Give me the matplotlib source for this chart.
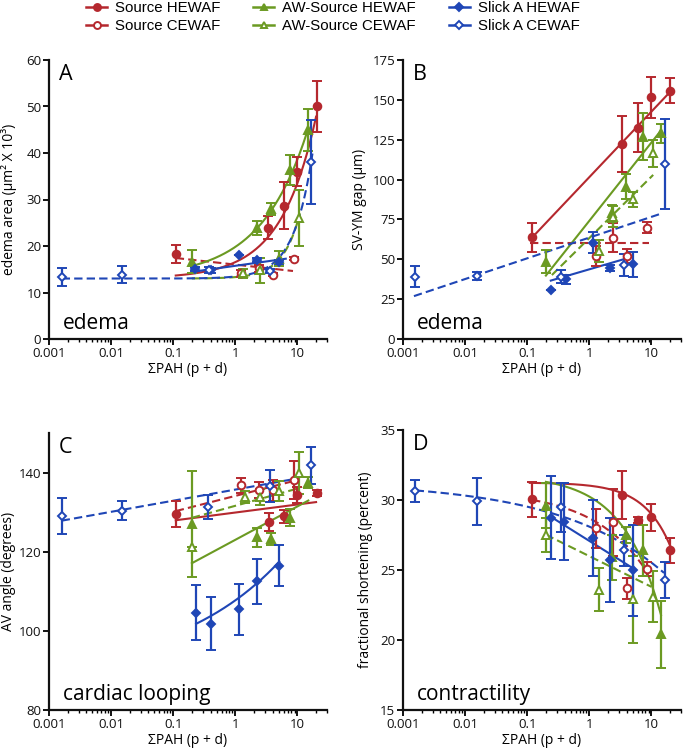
import numpy as np
import matplotlib
matplotlib.use("Agg")
import matplotlib.pyplot as plt
from matplotlib.lines import Line2D
from matplotlib.font_manager import FontProperties
from matplotlib.ticker import LogLocator, NullFormatter, FixedLocator, FixedFormatter

plt.rcParams['font.family'] = ['Open Sans', 'DejaVu Sans']

# ---------------- series ----------------
series_names = ['Source HEWAF', 'Source CEWAF', 'AW-Source HEWAF', 'AW-Source CEWAF',
                'Slick A HEWAF', 'Slick A CEWAF']
series_colors = ['#b5282e', '#b5282e', '#6b9a22', '#6b9a22', '#1f46b6', '#1f46b6']
series_markers = ['o', 'o', '^', '^', 'D', 'D']
series_filled = [True, False, True, False, True, False]
series_dashed = [False, True, False, True, False, True]

x_ticks = [0.001, 0.01, 0.1, 1, 10]
x_tick_labels = ['0.001', '0.01', '0.1', '1', '10']

# ---------------- panel A : edema area ----------------
a_x = [[0.11, 3.4, 6.0, 9.9, 20.7], [1.25, 2.44, 4.0, 8.7],
       [0.2, 2.24, 3.76, 7.5, 14.7], [1.33, 2.53, 5.0, 10.5],
       [0.226, 0.40, 1.13, 2.24, 5.0], [0.0016, 0.0148, 0.38, 3.57, 16.6]]
a_y = [[18.3, 23.9, 28.7, 36.0, 50.0], [14.1, 15.2, 13.8, 17.3],
       [16.6, 23.8, 27.9, 36.3, 44.9], [14.1, 14.8, 17.3, 26.0],
       [15.0, 14.8, 18.1, 17.0, 16.5], [13.3, 13.8, 14.8, 14.6, 38.1]]
a_e = [[2.0, 2.5, 5.0, 3.2, 5.5], [0.8, 0.8, 0.3, 0.3],
       [2.5, 1.5, 1.3, 3.2, 4.5], [1.0, 2.7, 1.6, 6.0],
       [0.4, 0.5, 0.0, 0.4, 0.4], [1.9, 1.8, 0.6, 0.4, 9.0]]
# fit curves: (model, a, b, p, xmin, xmax); 'pow': a + b*x**p, 'log': a + b*log10(x)
a_fit = [('pow', 13.0, 3.53, 0.764, 0.11, 20.0), ('log', 16.0, -1.48, 0, 0.11, 8.5),
         ('pow', 13.0, 6.8, 0.576, 0.2, 14.7), ('pow', 13.0, 0.31, 1.59, 0.2, 11.0),
         ('log', 15.74, 1.875, 0, 0.22, 6.5), ('pow', 13.0, 0.436, 1.44, 0.0016, 17.5)]

# ---------------- panel B : SV-YM gap ----------------
b_x = [[0.119, 3.35, 6.0, 9.8, 20.0], [1.26, 2.4, 4.0, 8.4],
       [0.204, 2.3, 3.9, 7.4, 14.3], [1.42, 2.38, 5.0, 10.7],
       [0.24, 0.42, 1.14, 2.18, 5.1], [0.00156, 0.0155, 0.355, 3.56, 16.3]]
b_y = [[63.8, 122.1, 132.6, 151.6, 155.8], [52.1, 63.6, 52.1, 69.8],
       [48.5, 78.9, 95.5, 126.9, 129.0], [55.4, 76.7, 87.6, 116.5],
       [30.7, 37.4, 60.4, 44.7, 46.8], [39.1, 39.5, 39.1, 46.4, 109.8]]
b_e = [[9.0, 17.6, 15.4, 12.8, 7.7], [6.4, 9.0, 4.5, 3.6],
       [7.4, 5.2, 7.8, 14.9, 5.8], [7.0, 6.5, 4.7, 8.6],
       [0.0, 3.0, 6.5, 2.0, 7.8], [6.5, 2.8, 4.0, 7.0, 28.5]]
b_fit = [('log', 101.5, 41.1, 0, 0.11, 20.0), ('log', 60.4, 0.0, 0, 0.11, 9.0),
         ('log', 74.1, 49.1, 0, 0.2, 14.0), ('log', 63.3, 38.5, 0, 0.25, 10.7),
         ('log', 43.7, 11.4, 0, 0.24, 4.1), ('log', 63.6, 13.0, 0, 0.0015, 15.0)]

# ---------------- panel C : AV angle ----------------
c_x = [[0.112, 3.44, 6.17, 9.9, 20.7], [1.25, 2.45, 4.07, 8.7],
       [0.2, 2.24, 3.76, 7.5, 14.7], [0.2, 1.41, 2.53, 5.0, 10.5],
       [0.234, 0.41, 1.15, 2.24, 5.1], [0.0016, 0.0148, 0.36, 3.57, 16.6]]
c_y = [[129.5, 127.5, 128.9, 134.4, 134.9], [136.8, 135.7, 135.5, 138.0],
       [127.0, 123.6, 123.2, 128.6, 137.4], [121.1, 133.8, 133.8, 135.3, 139.9],
       [104.6, 101.8, 105.4, 112.5, 116.5], [129.1, 130.3, 131.3, 136.6, 141.8]]
c_e = [[3.2, 2.3, 1.7, 2.0, 0.8], [1.9, 2.0, 2.6, 4.8],
       [13.5, 2.5, 1.5, 2.1, 1.4], [0.0, 1.5, 2.0, 2.6, 5.3],
       [6.9, 6.7, 6.5, 5.7, 5.2], [4.5, 2.4, 3.0, 4.1, 4.7]]
c_fit = [('log', 129.9, 2.03, 0, 0.11, 20.0), ('log', 134.1, 4.0, 0, 0.11, 8.7),
         ('log', 123.0, 8.44, 0, 0.2, 15.0), ('log', 131.6, 4.35, 0, 0.2, 10.5),
         ('pow', 88.25, 19.45, 0.25, 0.234, 5.1), ('log', 135.7, 2.81, 0, 0.0016, 9.0)]

# ---------------- panel D : fractional shortening ----------------
d_x = [[0.119, 3.35, 6.0, 9.8, 20.0], [1.26, 2.45, 4.03, 8.4],
       [0.2, 2.3, 3.9, 7.4, 14.3], [0.2, 1.42, 5.1, 10.7],
       [0.24, 0.39, 1.14, 2.18, 5.1], [0.00156, 0.0155, 0.355, 3.56, 16.3]]
d_y = [[30.05, 30.36, 28.57, 28.76, 26.4], [27.98, 28.4, 23.7, 25.07],
       [29.6, 25.9, 27.5, 26.4, 20.4], [27.5, 23.6, 22.9, 23.1],
       [28.75, 28.45, 27.3, 25.7, 25.0], [30.66, 29.9, 29.5, 26.4, 24.3]]
d_e = [[1.25, 1.7, 0.2, 0.95, 0.9], [1.4, 2.4, 0.75, 0.5],
       [1.6, 1.6, 0.6, 1.8, 2.4], [1.2, 1.55, 3.1, 1.8],
       [2.95, 2.75, 2.7, 3.0, 3.25], [0.8, 1.7, 1.75, 1.1, 1.3]]
d_fit = [('pow', 31.25, -0.225, 1.0, 0.11, 20.0), ('pow', 30.7, -2.0, 0.5, 0.12, 8.4),
         ('pow', 31.8, -1.555, 0.7, 0.2, 14.3), ('log', 25.99, -2.19, 0, 0.2, 10.0),
         ('log', 27.08, -2.78, 0, 0.24, 5.1), ('pow', 31.3, -3.2, 0.256, 0.0016, 16.0)]

panel_letters = ['A', 'B', 'C', 'D']
panel_notes = ['edema', 'edema', 'cardiac looping', 'contractility']
y_labels = ['edema area (µm² X 10³)', 'SV-YM gap (µm)', 'AV angle (degrees)',
            'fractional shortening (percent)']
y_limits = [(0, 60), (0, 175), (80, 150), (15, 35)]
y_ticks = [[0, 10, 20, 30, 40, 50, 60], [0, 25, 50, 75, 100, 125, 150, 175],
           [80, 100, 120, 140], [15, 20, 25, 30, 35]]
x_label = 'ΣPAH (p + d)'

panels = [(a_x, a_y, a_e, a_fit), (b_x, b_y, b_e, b_fit),
          (c_x, c_y, c_e, c_fit), (d_x, d_y, d_e, d_fit)]

W, H = 685, 754
fig = plt.figure(figsize=(W / 100, H / 100), dpi=100)
rects = [(49, 60, 278, 279), (403, 60, 278, 279), (49, 433, 278, 277), (403, 430, 278, 280)]
ylabel_x = [-0.115, -0.13, -0.12, -0.108]

DASH = (0, (4.0, 2.0))


def fit_curve(model, a, b, p, x0, x1):
    xs = np.logspace(np.log10(x0), np.log10(x1), 200)
    if model == 'pow':
        ys = a + b * xs ** p
    else:
        ys = a + b * np.log10(xs)
    return xs, ys


for k, (xs_l, ys_l, es_l, fits) in enumerate(panels):
    l, t, w, h = rects[k]
    ax = fig.add_axes([l / W, 1 - (t + h) / H, w / W, h / H])
    ax.set_xscale('log')
    for i in range(6):
        col = series_colors[i]
        fx, fy = fit_curve(*fits[i])
        ax.plot(fx, fy, color=col, lw=1.5, ls=DASH if series_dashed[i] else '-',
                zorder=2)
    for i in range(6):
        col = series_colors[i]
        mk = series_markers[i]
        ms = 5.5 if mk == 'o' else (5.5 if mk == '^' else 3.8)
        ax.errorbar(xs_l[i], ys_l[i], yerr=es_l[i], fmt=mk, color=col, ms=ms,
                    mfc=col if series_filled[i] else 'white', mec=col, mew=1.4,
                    ecolor=col, elinewidth=1.6, capsize=3.6, capthick=1.6, zorder=3)
    ax.set_xlim(0.001, 30)
    ax.set_ylim(*y_limits[k])
    ax.set_yticks(y_ticks[k])
    ax.xaxis.set_major_locator(FixedLocator(x_ticks))
    ax.xaxis.set_major_formatter(FixedFormatter(x_tick_labels))
    ax.xaxis.set_minor_locator(LogLocator(base=10, subs=np.arange(2, 10)))
    ax.xaxis.set_minor_formatter(NullFormatter())
    for s in ['top', 'right']:
        ax.spines[s].set_visible(False)
    for s in ['left', 'bottom']:
        ax.spines[s].set_linewidth(1.6)
        ax.spines[s].set_color('#111111')
    ax.tick_params(axis='both', which='major', direction='out', length=4, width=1.4,
                   labelsize=9.5, pad=1.5, colors='#111111')
    ax.tick_params(axis='x', which='minor', direction='out', length=2.5, width=1.0)
    ax.set_xlabel(x_label, fontsize=10, labelpad=2)
    ax.set_ylabel(y_labels[k], fontsize=10)
    ax.yaxis.set_label_coords(ylabel_x[k], 0.5)
    ax.text(0.035, 0.985, panel_letters[k], transform=ax.transAxes, fontsize=15.5,
            va='top', ha='left')
    ax.text(0.05, 0.035, panel_notes[k], transform=ax.transAxes, fontsize=15,
            va='baseline', ha='left')
    ax.patch.set_alpha(0)

handles = []
for i in range(6):
    col = series_colors[i]
    mk = series_markers[i]
    handles.append(Line2D([], [], color=col, lw=1.8, marker=mk,
                          ms=5 if mk != 'D' else 4,
                          mfc=col if series_filled[i] else 'white', mec=col, mew=1.4))
leg_font = FontProperties(family=['Liberation Sans', 'DejaVu Sans'], size=10.8)
leg = fig.legend(handles, series_names, ncol=3, loc='upper left',
                 bbox_to_anchor=(86 / W, 1 - 1 / H), frameon=False, prop=leg_font,
                 handlelength=1.4, handletextpad=0.53, columnspacing=2.2,
                 labelspacing=0.25, borderaxespad=0.0, borderpad=0.0)

fig.savefig('out.png', dpi=100)
